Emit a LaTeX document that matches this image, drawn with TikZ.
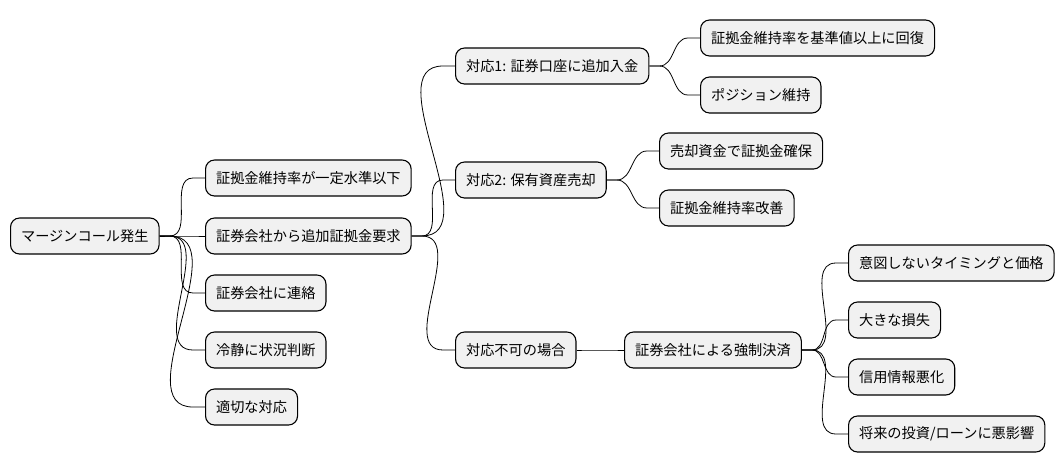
\documentclass[tikz,border=0pt]{standalone}
\usepackage{fontspec}
\setmainfont{Noto Sans CJK JP}
\definecolor{ideafill}{HTML}{F1F1F1}

\tikzset{
  idea/.style={draw, line width=1.1pt, rounded corners=9pt, fill=ideafill,
    anchor=west, minimum height=36pt, inner xsep=10.5pt,
    font=\fontsize{14.2}{17}\selectfont},
  link/.style={line width=0.8pt}
}
\newcommand{\branch}[2]{%
  \draw[link] (#1.east) -- ++(10,0) to[out=0,in=180]
    ([xshift=-12pt]#2.west) -- (#2.west);}

\begin{document}
\begin{tikzpicture}[x=1pt, y=-1pt]
  \useasboundingbox (0,0) rectangle (1062,471);

  % Root
  \node[idea] (root) at (10,236) {マージンコール発生};

  % First level
  \node[idea] (level) at (205,178) {証拠金維持率が一定水準以下};
  \node[idea] (demand) at (205,236) {証券会社から追加証拠金要求};
  \node[idea] (contact) at (205,293) {証券会社に連絡};
  \node[idea] (calm) at (205,350) {冷静に状況判断};
  \node[idea] (act) at (205,407) {適切な対応};

  % Responses
  \node[idea] (deposit) at (455,66) {対応1: 証券口座に追加入金};
  \node[idea] (sell) at (455,180) {対応2: 保有資産売却};
  \node[idea] (fail) at (455,350) {対応不可の場合};

  % Results of deposit
  \node[idea] (recover) at (700,38) {証拠金維持率を基準値以上に回復};
  \node[idea] (keep) at (700,95) {ポジション維持};

  % Results of selling
  \node[idea] (secure) at (659,151) {売却資金で証拠金確保};
  \node[idea] (improve) at (659,208) {証拠金維持率改善};

  % Forced liquidation
  \node[idea] (forced) at (624,350) {証券会社による強制決済};
  \node[idea] (timing) at (848,263) {意図しないタイミングと価格};
  \node[idea] (loss) at (848,320) {大きな損失};
  \node[idea] (credit) at (848,377) {信用情報悪化};
  \node[idea] (future) at (848,434) {将来の投資/ローンに悪影響};

  % Connectors
  \foreach \a/\b in {root/level, root/demand, root/contact, root/calm, root/act,
      demand/deposit, demand/sell, demand/fail,
      deposit/recover, deposit/keep, sell/secure, sell/improve,
      fail/forced, forced/timing, forced/loss, forced/credit, forced/future}
    {\branch{\a}{\b}}
\end{tikzpicture}
\end{document}
